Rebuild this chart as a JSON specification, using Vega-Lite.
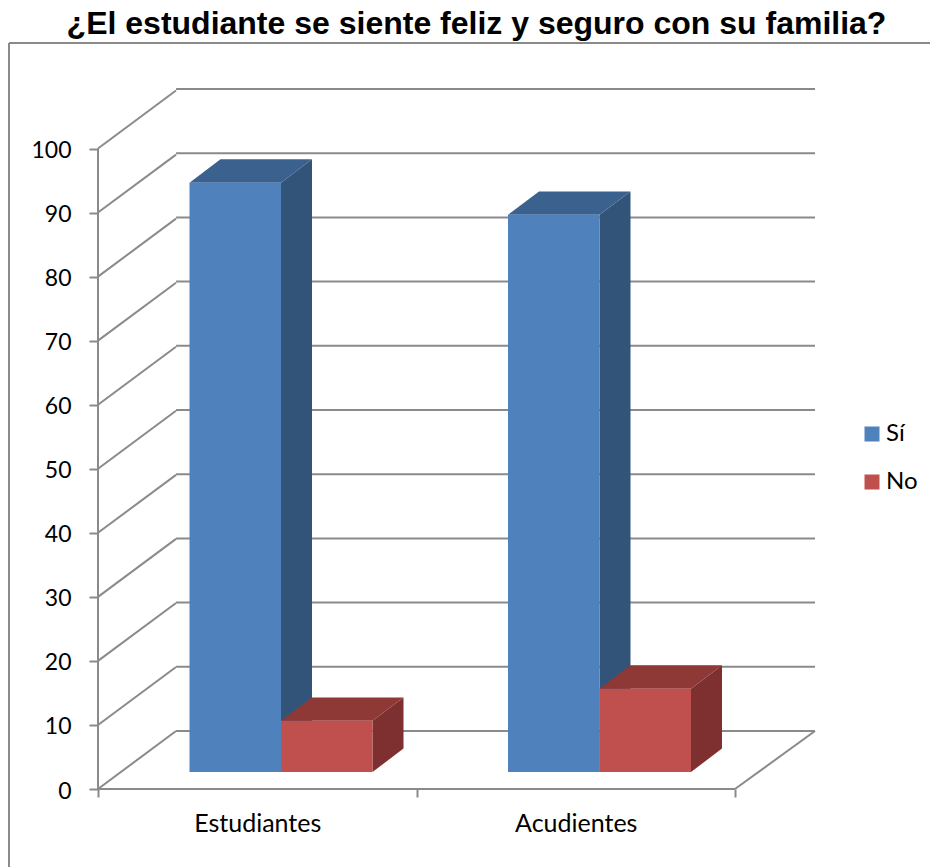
{
"$schema":"https://vega.github.io/schema/vega-lite/v6.json",
"width":717,"height":700,
"autosize":{"type":"none"},
"padding":{"left":98,"top":89,"right":115,"bottom":78},
"background":"white",
"config":{"view":{"stroke":null}},
"title":{"text":"¿El estudiante se siente feliz y seguro con su familia?","font":"Liberation Sans","fontSize":32,"fontWeight":"bold","color":"#000000","anchor":"middle","frame":"group","dx":20,"offset":1},
"datasets":{
"barras":[
{"grupo":"Estudiantes","serie":"Sí","valor":92},
{"grupo":"Estudiantes","serie":"No","valor":8},
{"grupo":"Acudientes","serie":"Sí","valor":87},
{"grupo":"Acudientes","serie":"No","valor":13}],
"niveles":[{"nivel":0},{"nivel":10},{"nivel":20},{"nivel":30},{"nivel":40},{"nivel":50},{"nivel":60},{"nivel":70},{"nivel":80},{"nivel":90},{"nivel":100}],
"segmentos":[
{"nivel":0,"fondo":9.05,"desde":0,"hasta":0.245},
{"nivel":10,"fondo":19.05,"desde":0,"hasta":0.245},
{"nivel":20,"fondo":29.05,"desde":0,"hasta":0.245},
{"nivel":30,"fondo":39.05,"desde":0,"hasta":0.245},
{"nivel":40,"fondo":49.05,"desde":0,"hasta":0.245},
{"nivel":50,"fondo":59.05,"desde":0,"hasta":0.245},
{"nivel":60,"fondo":69.05,"desde":0,"hasta":0.245},
{"nivel":70,"fondo":79.05,"desde":0,"hasta":0.245},
{"nivel":80,"fondo":89.05,"desde":0,"hasta":0.245},
{"nivel":90,"fondo":99.05,"desde":0,"hasta":0.245},
{"nivel":100,"fondo":109.05,"desde":0,"hasta":0.245},
{"nivel":0,"fondo":9.05,"desde":2,"hasta":2.2512},
{"nivel":0,"fondo":0,"desde":0,"hasta":2},
{"nivel":0,"fondo":100,"desde":0,"hasta":0},
{"nivel":-14,"fondo":116.47,"desde":-0.2794,"hasta":-0.2794},
{"nivel":116.47,"fondo":116.47,"desde":-0.2794,"hasta":2.62}],
"caras":[
{"id":"E-Si","serie":"Sí","cara":"lado","x":0.5746,"y":92,"y2":0},
{"id":"E-Si","serie":"Sí","cara":"lado","x":0.6719,"y":95.65,"y2":3.65},
{"id":"E-No","serie":"No","cara":"lado","x":0.8619,"y":8,"y2":0},
{"id":"E-No","serie":"No","cara":"lado","x":0.9592,"y":11.65,"y2":3.65},
{"id":"A-Si","serie":"Sí","cara":"lado","x":1.5746,"y":87,"y2":0},
{"id":"A-Si","serie":"Sí","cara":"lado","x":1.6719,"y":90.65,"y2":3.65},
{"id":"A-No","serie":"No","cara":"lado","x":1.8619,"y":13,"y2":0},
{"id":"A-No","serie":"No","cara":"lado","x":1.9592,"y":16.65,"y2":3.65},
{"id":"E-Si","serie":"Sí","cara":"tapa","x":0.2873,"y":92,"y2":92},
{"id":"E-Si","serie":"Sí","cara":"tapa","x":0.3846,"y":95.65,"y2":92},
{"id":"E-Si","serie":"Sí","cara":"tapa","x":0.5746,"y":95.65,"y2":92},
{"id":"E-Si","serie":"Sí","cara":"tapa","x":0.6719,"y":95.65,"y2":95.65},
{"id":"E-No","serie":"No","cara":"tapa","x":0.5746,"y":8,"y2":8},
{"id":"E-No","serie":"No","cara":"tapa","x":0.6719,"y":11.65,"y2":8},
{"id":"E-No","serie":"No","cara":"tapa","x":0.8619,"y":11.65,"y2":8},
{"id":"E-No","serie":"No","cara":"tapa","x":0.9592,"y":11.65,"y2":11.65},
{"id":"A-Si","serie":"Sí","cara":"tapa","x":1.2873,"y":87,"y2":87},
{"id":"A-Si","serie":"Sí","cara":"tapa","x":1.3846,"y":90.65,"y2":87},
{"id":"A-Si","serie":"Sí","cara":"tapa","x":1.5746,"y":90.65,"y2":87},
{"id":"A-Si","serie":"Sí","cara":"tapa","x":1.6719,"y":90.65,"y2":90.65},
{"id":"A-No","serie":"No","cara":"tapa","x":1.5746,"y":13,"y2":13},
{"id":"A-No","serie":"No","cara":"tapa","x":1.6719,"y":16.65,"y2":13},
{"id":"A-No","serie":"No","cara":"tapa","x":1.8619,"y":16.65,"y2":13},
{"id":"A-No","serie":"No","cara":"tapa","x":1.9592,"y":16.65,"y2":16.65}]
},
"layer":[
{"data":{"name":"niveles"},
 "mark":{"type":"rule","color":"#8a8a8a","strokeWidth":2},
 "encoding":{
  "x":{"datum":0.245,"type":"quantitative","scale":{"domain":[0,2.2512],"range":[0,717]},"axis":null},
  "x2":{"datum":2.2512},
  "y":{"field":"nivel","type":"quantitative","scale":{"domain":[0,100],"range":[642,0]},"axis":null}}},
{"data":{"name":"segmentos"},
 "mark":{"type":"rule","color":"#8a8a8a","strokeWidth":2},
 "encoding":{
  "x":{"field":"desde","type":"quantitative","scale":{"domain":[0,2.2512],"range":[0,717]},"axis":null},
  "x2":{"field":"hasta"},
  "y":{"field":"nivel","type":"quantitative","scale":{"domain":[0,100],"range":[700,59.5]},
   "axis":{"title":null,"values":[0,10,20,30,40,50,60,70,80,90,100],"domain":false,"grid":false,"ticks":true,"tickColor":"#8a8a8a","tickWidth":2,"tickSize":9,"labelFont":"Lato","labelFontSize":23,"labelColor":"#000000","labelPadding":18,"labelOffset":2}},
  "y2":{"field":"fondo"}}},
{"data":{"name":"caras"},
 "transform":[{"filter":"datum.cara === 'lado'"}],
 "mark":{"type":"area","line":false,"interpolate":"linear"},
 "encoding":{
  "x":{"field":"x","type":"quantitative","scale":{"domain":[0,2.2512],"range":[0,717]},"axis":null},
  "y":{"field":"y","type":"quantitative","stack":null,"scale":{"domain":[0,100],"range":[683,42.5]},"axis":null},
  "y2":{"field":"y2"},
  "detail":{"field":"id"},
  "color":{"field":"serie","type":"nominal","scale":{"domain":["Sí","No"],"range":["#325479","#7D302F"]},"legend":null}}},
{"data":{"name":"caras"},
 "transform":[{"filter":"datum.cara === 'tapa'"}],
 "mark":{"type":"area","line":false,"interpolate":"linear"},
 "encoding":{
  "x":{"field":"x","type":"quantitative","scale":{"domain":[0,2.2512],"range":[0,717]},"axis":null},
  "y":{"field":"y","type":"quantitative","stack":null,"scale":{"domain":[0,100],"range":[683,42.5]},"axis":null},
  "y2":{"field":"y2"},
  "detail":{"field":"id"},
  "color":{"field":"serie","type":"nominal","scale":{"domain":["Sí","No"],"range":["#3B618F","#8F3937"]},"legend":null}}},
{"data":{"name":"barras"},
 "mark":{"type":"bar"},
 "encoding":{
  "x":{"field":"grupo","type":"nominal","sort":null,"scale":{"domain":["Estudiantes","Acudientes"],"range":[0,637],"paddingInner":0,"paddingOuter":0},
   "axis":{"title":null,"domain":false,"grid":false,"ticks":true,"tickBand":"extent","tickColor":"#8a8a8a","tickWidth":2,"tickSize":8,"labelAngle":0,"labelFont":"Lato","labelFontSize":25,"labelColor":"#000000","labelPadding":14}},
  "xOffset":{"field":"serie","type":"nominal","sort":null,"scale":{"domain":["Sí","No"],"range":[91.5,274.5],"paddingInner":0,"paddingOuter":0}},
  "y":{"field":"valor","type":"quantitative","stack":null,"scale":{"domain":[0,100],"range":[683,42.5]},"axis":null},
  "color":{"field":"serie","type":"nominal","scale":{"domain":["Sí","No"],"range":["#4F81BD","#C0504D"]},
   "legend":{"title":null,"orient":"none","legendX":762,"legendY":333,"padding":0,"symbolType":"square","symbolSize":225,"symbolStrokeWidth":0,"labelFont":"Lato","labelFontSize":24,"labelColor":"#000000","labelOffset":2,"rowPadding":24}}}}
],
"resolve":{"scale":{"x":"independent","y":"independent","color":"independent","xOffset":"independent"},"axis":{"x":"independent","y":"independent"}}
}
